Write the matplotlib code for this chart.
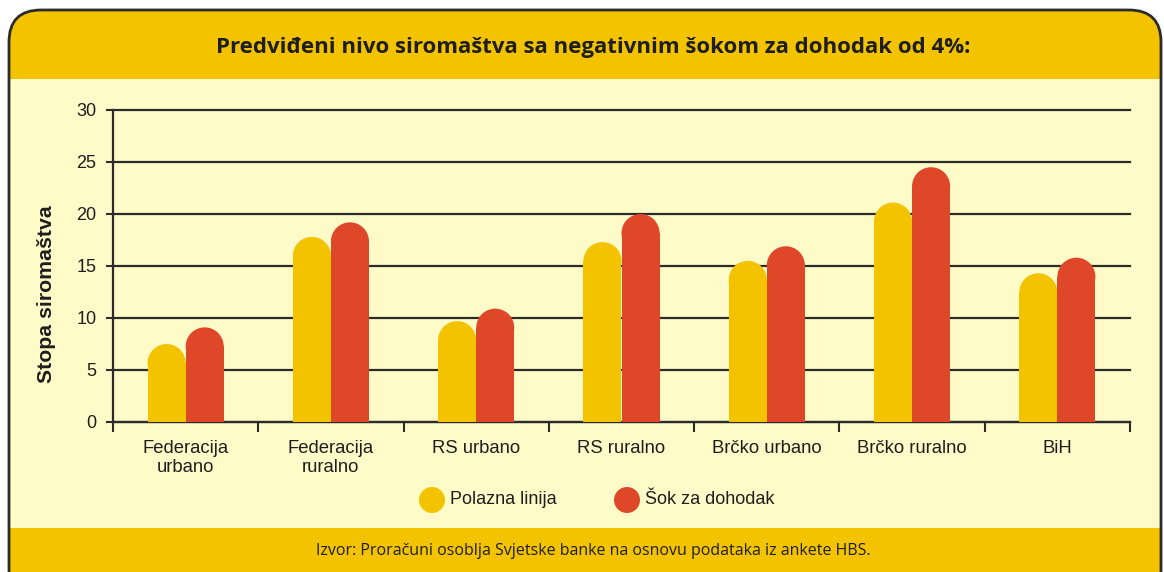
import matplotlib.pyplot as plt
from matplotlib.patches import Ellipse, FancyBboxPatch, Rectangle, Circle

# data
categories = ["Federacija\nurbano", "Federacija\nruralno", "RS urbano", "RS ruralno",
              "Brčko urbano", "Brčko ruralno", "BiH"]
baseline = [7.5, 17.8, 9.7, 17.3, 15.5, 21.1, 14.3]
shock = [9.1, 19.2, 10.9, 20.0, 16.9, 24.5, 15.8]
series_names = ["Polazna linija", "Šok za dohodak"]
yticks = [0, 5, 10, 15, 20, 25, 30]

title = "Predviđeni nivo siromaštva sa negativnim šokom za dohodak od 4%:"
source = "Izvor: Proračuni osoblja Svjetske banke na osnovu podataka iz ankete HBS."
ylabel = "Stopa siromaštva"

YELLOW = "#F4C300"
RED = "#DF4729"
CREAM = "#FFFBC8"
DARK = "#2B2B2B"

W, H = 1164, 572
fig = plt.figure(figsize=(W / 100, H / 100), dpi=100, facecolor="white")

# rounded frame with title and footer bands (pixel coords)
frame = FancyBboxPatch((9, -30), 1152, 592, boxstyle="round,pad=0,rounding_size=32",
                       transform=None, fc=CREAM, ec="none", zorder=0)
fig.add_artist(frame)
for y0, h in [(H - 79, 80), (-10, H - 528 + 10)]:
    band = Rectangle((0, y0), W, h, transform=None, fc=YELLOW, ec="none", zorder=0.5)
    band.set_clip_path(frame)
    fig.add_artist(band)
border = FancyBboxPatch((9, -30), 1152, 592, boxstyle="round,pad=0,rounding_size=32",
                        transform=None, fc="none", ec=DARK, lw=2, zorder=1)
fig.add_artist(border)

fig.text(593 / W, 1 - 48 / H, title, ha="center", va="center", fontsize=16,
         fontweight="bold", family="Open Sans", color="#1E1E1E")
fig.text(593 / W, 1 - 551 / H, source, ha="center", va="center", fontsize=11.5,
         family="Open Sans", color="#1E1E1E")

# plot area
ax = fig.add_axes([113 / W, (H - 422) / H, 1017 / W, 312 / H])
ax.set_facecolor("none")
ax.set_zorder(2)
n = len(categories)
ax.set_xlim(-0.5, n - 0.5)
ax.set_ylim(0, 30)

bw = 0.262
px_x = 1017 / n
px_y = 312 / 30
ry = (bw * px_x / 2) / px_y  # cap radius in y data units

for i in range(n):
    for off, val, col in [(-bw / 2, baseline[i], YELLOW), (bw / 2, shock[i], RED)]:
        xc = i + off
        ax.bar(xc, val - ry, width=bw, color=col, zorder=3, linewidth=0)
        ax.add_patch(Ellipse((xc, val - ry), bw, 2 * ry, fc=col, ec="none", zorder=3))

ax.set_yticks(yticks)
ax.yaxis.grid(True, color=DARK, lw=1.6, zorder=1)
for gl in ax.get_ygridlines():
    gl.set_clip_on(False)
ax.set_axisbelow(True)
ax.set_xticks([i - 0.5 for i in range(n + 1)])
ax.set_xticklabels([])
ax.set_xticks(range(n), minor=True)
ax.set_xticklabels(categories, minor=True, fontsize=13.3, family="Liberation Sans",
                   color="#1E1E1E", linespacing=1.12)
ax.tick_params(axis="x", which="major", length=7, width=1.5, color=DARK, direction="out")
ax.tick_params(axis="x", which="minor", length=0, pad=13)
ax.tick_params(axis="y", length=5, width=1.5, color=DARK, pad=7, labelsize=13,
               labelcolor="#1E1E1E")
for lab in ax.get_yticklabels():
    lab.set_family("Liberation Sans")
for s in ["top", "right"]:
    ax.spines[s].set_visible(False)
for s in ["left", "bottom"]:
    ax.spines[s].set_color(DARK)
    ax.spines[s].set_linewidth(1.6)

fig.text(47 / W, 1 - 294 / H, ylabel, rotation=90, ha="center", va="center",
         fontsize=15.3, fontweight="bold", family="Liberation Sans", color="#1E1E1E")

# legend
for cx, col, name in [(432, YELLOW, series_names[0]), (627, RED, series_names[1])]:
    fig.add_artist(Circle((cx, H - 500), 13, transform=None, fc=col, ec="none", zorder=3))
    fig.text((cx + 18) / W, 1 - 500 / H, name, ha="left", va="center", fontsize=13,
             family="Liberation Sans", color="#1E1E1E")

fig.savefig("out.png", dpi=100)
